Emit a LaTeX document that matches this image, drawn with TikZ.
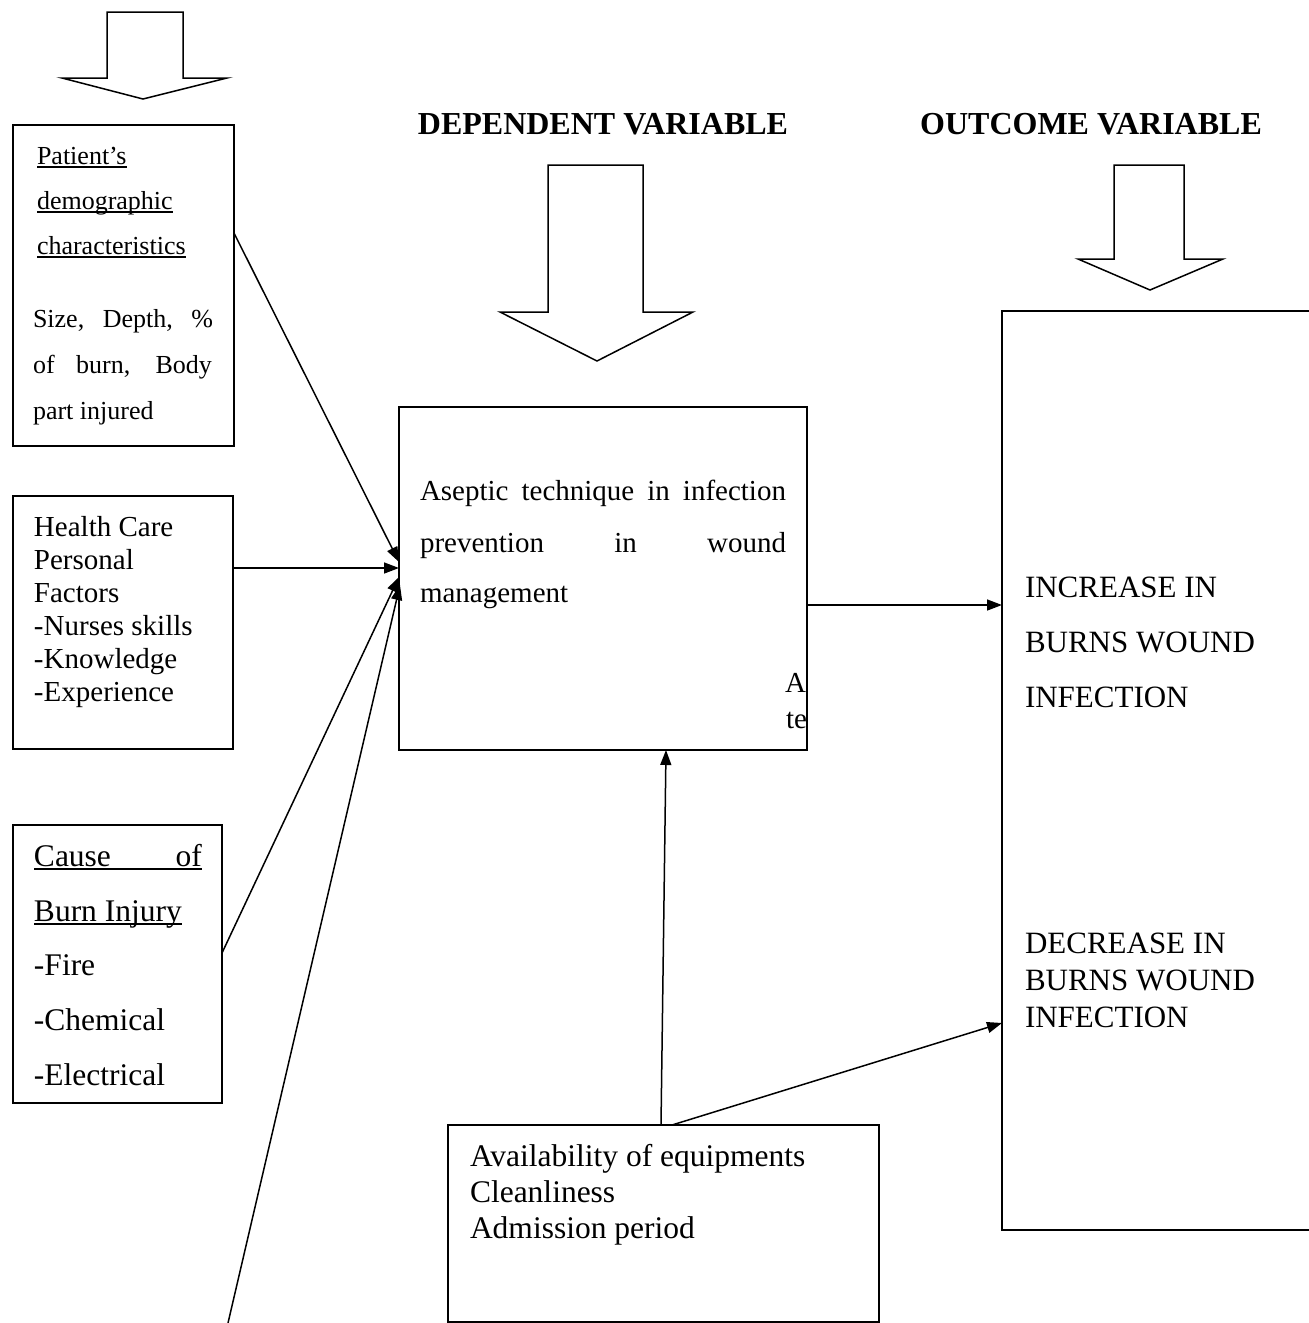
\documentclass[tikz,border=0pt]{standalone}
\usepackage{fontspec}
\setmainfont{Liberation Serif}
\usetikzlibrary{calc,arrows.meta}
\begin{document}
\begin{tikzpicture}[x=1pt,y=-1pt,
  box/.style={draw, line width=1.8pt, anchor=north west, inner sep=0pt, outer sep=0pt},
  txt/.style={anchor=base west, inner sep=0pt, outer sep=0pt},
  conn/.style={line width=1.5pt, -{Triangle[length=15pt,width=11pt]}},
  blk/.style={draw, line width=1.5pt, line join=miter, fill=white},
  uline/.style={line width=1.3pt},
  fpat/.style={font=\fontsize{26}{30}\selectfont},
  fhc/.style={font=\fontsize{29}{33}\selectfont},
  fcen/.style={font=\fontsize{29}{33}\selectfont},
  fout/.style={font=\fontsize{31}{36}\selectfont},
  fbig/.style={font=\fontsize{31.5}{36}\selectfont},
  fhead/.style={font=\fontsize{32}{36}\selectfont\bfseries, anchor=base, inner sep=0pt}
]
\useasboundingbox (0,0) rectangle (1309,1323);
\clip (0,0) rectangle (1309,1323);
\fill[white] (0,0) rectangle (1309,1323);

% block arrows
\draw[blk] (107,12) -- (183,12) -- (183,78) -- (227,78) -- (143,99) -- (62,78) -- (107,78) -- cycle;
\draw[blk] (548,165) -- (643,165) -- (643,312) -- (693,312) -- (597,361) -- (500,312) -- (548,312) -- cycle;
\draw[blk] (1114,165) -- (1184,165) -- (1184,259) -- (1223,259) -- (1150,290) -- (1078,259) -- (1114,259) -- cycle;

% headings
\node[fhead] (hdep) at (603,134) {DEPENDENT VARIABLE};
\node[fhead] (hout) at (1091,134) {OUTCOME VARIABLE};

% boxes
\node[box, minimum width=221pt, minimum height=321pt] (pat) at (13,125) {};
\node[box, minimum width=220pt, minimum height=253pt] (hc) at (13,496) {};
\node[box, minimum width=209pt, minimum height=278pt] (cause) at (13,825) {};
\node[box, minimum width=408pt, minimum height=343pt] (cen) at (399,407) {};
\node[box, minimum width=330pt, minimum height=919pt] (out) at (1002,311) {};
\node[box, minimum width=431pt, minimum height=197pt] (bot) at (448,1125) {};

% patient box text
\node[txt, fpat] (p1) at (37,164) {Patient’s\ };
\node[txt, fpat] (p2) at (37,209) {demographic\ };
\node[txt, fpat] (p3) at (37,254) {characteristics};
\draw[uline] ([yshift=-3pt]p1.base west) -- ([yshift=-3pt]p1.base east);
\draw[uline] ([yshift=-3pt]p2.base west) -- ([yshift=-3pt]p2.base east);
\draw[uline] ([yshift=-3pt]p3.base west) -- ([yshift=-3pt]p3.base east);
\node[txt, fpat] (p4) at (33,327) {\makebox[180pt][s]{Size, Depth, \%}};
\node[txt, fpat] (p5) at (33,373) {\makebox[179pt][s]{of burn, Body}};
\node[txt, fpat] (p6) at (33,419) {part injured};

% health care box text
\node[txt, fhc] (h1) at (34,536) {Health Care};
\node[txt, fhc] (h2) at (34,569) {Personal};
\node[txt, fhc] (h3) at (34,602) {Factors};
\node[txt, fhc] (h4) at (34,635) {-Nurses skills};
\node[txt, fhc] (h5) at (34,668) {-Knowledge};
\node[txt, fhc] (h6) at (34,701) {-Experience};

% cause box text
\node[txt, fbig] (c1) at (34,866) {\makebox[168pt][s]{Cause of}};
\node[txt, fbig] (c2) at (34,921) {Burn Injury\ };
\draw[uline] ([yshift=-3pt]c1.base west) -- ([yshift=-3pt]c1.base east);
\draw[uline] ([yshift=-3pt]c2.base west) -- ([yshift=-3pt]c2.base east);
\node[txt, fbig] (c3) at (34,975) {-Fire};
\node[txt, fbig] (c4) at (34,1030) {-Chemical};
\node[txt, fbig] (c5) at (34,1085) {-Electrical};

% centre box text
\node[txt, fcen] (a1) at (420,500) {\makebox[366pt][s]{Aseptic technique in infection}};
\node[txt, fcen] (a2) at (420,552) {\makebox[366pt][s]{prevention in wound}};
\node[txt, fcen] (a3) at (420,602) {management};
\begin{scope}
  \clip (cen.north west) rectangle (cen.south east);
  \node[txt, fcen] (a4) at (785,692) {A};
  \node[txt, fcen] (a5) at (786,728) {te};
\end{scope}

% outcome box text
\node[txt, fout] (o1) at (1025,597) {INCREASE IN};
\node[txt, fout] (o2) at (1025,652) {BURNS WOUND};
\node[txt, fout] (o3) at (1025,707) {INFECTION};
\node[txt, fout] (o4) at (1025,953) {DECREASE IN};
\node[txt, fout] (o5) at (1025,990) {BURNS WOUND};
\node[txt, fout] (o6) at (1025,1027) {INFECTION};

% bottom box text
\node[txt, fbig] (b1) at (470,1166) {Availability of equipments};
\node[txt, fbig] (b2) at (470,1202) {Cleanliness};
\node[txt, fbig] (b3) at (470,1238) {Admission period};

% connectors
\coordinate (lowstart) at (228,1323);
\draw[conn] ($(pat.north east)+(0,108)$) -- ($(cen.north west)+(0,155)$);
\draw[conn] ($(hc.north east)+(0,72)$) -- ($(cen.north west)+(0,161)$);
\draw[conn] ($(cause.north east)+(0,128)$) -- ($(cen.north west)+(0,170)$);
\draw[conn] (lowstart) -- ($(cen.north west)+(1,178)$);
\draw[conn] ($(cen.north east)+(0,198)$) -- ($(out.north west)+(0,294)$);
\draw[conn] ($(bot.north west)+(213,0)$) -- ($(cen.south west)+(267,0)$);
\draw[conn] ($(bot.north west)+(224,0)$) -- ($(out.north west)+(0,712)$);
\end{tikzpicture}
\end{document}
